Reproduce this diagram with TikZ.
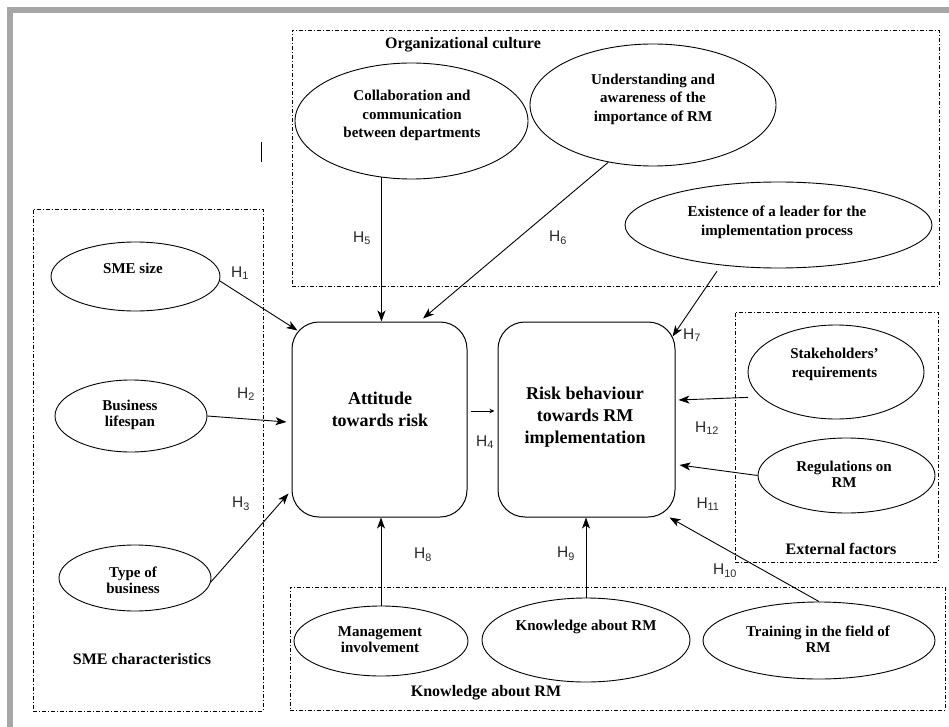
\documentclass[tikz,border=0pt]{standalone}
\usepackage{fontspec}
\setmainfont{Liberation Serif}
\newfontfamily\hsans{Liberation Sans}
\usetikzlibrary{shapes.geometric,arrows.meta}
\definecolor{framegray}{HTML}{A6A6A6}
\definecolor{hgray}{HTML}{2A2A2A}
\begin{document}
\begin{tikzpicture}[x=1pt,y=-1pt,
  ell/.style={draw, ellipse, line width=0.9pt, inner sep=0pt},
  grp/.style={draw, rectangle, inner sep=0pt, line width=0.7pt, dash pattern=on 4pt off 2pt on 1pt off 2pt},
  bigbox/.style={draw, rectangle, rounded corners=27pt, inner sep=0pt, line width=1pt},
  etxt/.style={font=\fontsize{15}{18.5}\selectfont\bfseries, align=center, inner sep=0pt},
  ctxt/.style={font=\fontsize{15}{16.5}\selectfont\bfseries, align=center, inner sep=0pt},
  gtxt/.style={font=\fontsize{16}{19}\selectfont\bfseries, inner sep=0pt},
  btxt/.style={font=\fontsize{18}{22}\selectfont\bfseries, align=center, inner sep=0pt},
  hl/.style={font=\hsans\fontsize{15.5}{15.5}\selectfont, text=hgray, inner sep=0pt},
  arr/.style={-{Stealth[length=11pt,width=8pt,inset=3pt]}, line width=0.9pt},
  arrsmall/.style={-{Stealth[length=5pt,width=4.5pt,inset=1.5pt]}, line width=0.8pt}
]
\useasboundingbox (0,0) rectangle (949,727);
\fill[white] (0,0) rectangle (949,727);
% grey frame (top and left)
\fill[framegray] (7,7) rectangle (949,13);
\fill[framegray] (7,7) rectangle (13,727);

% group boxes
\node[grp, minimum width=647pt, minimum height=256pt] (orgbox) at (615.5,158) {};
\node[grp, minimum width=230pt, minimum height=502pt] (smebox) at (148,460) {};
\node[grp, minimum width=203pt, minimum height=250pt] (extbox) at (836.5,437) {};
\node[grp, minimum width=655pt, minimum height=123pt] (knowbox) at (617.5,648.5) {};

\node[gtxt] (orglab) at (463,45) {Organizational culture};
\node[gtxt] (smelab) at (142,659) {SME characteristics};
\node[gtxt] (extlab) at (841,549) {External factors};
\node[gtxt] (knowlab) at (486,693) {Knowledge about RM};

% stray mark
\draw[line width=0.9pt] (261,142) -- (261,162);

% ellipses
\node[ell, minimum width=233pt, minimum height=116pt] (collab) at (411.5,121) {};
\node[ell, minimum width=246pt, minimum height=122pt] (under) at (653,105) {};
\node[ell, minimum width=307pt, minimum height=86pt] (exist) at (778.5,225) {};
\node[ell, minimum width=169pt, minimum height=69pt] (sme) at (135.5,276.5) {};
\node[ell, minimum width=152pt, minimum height=72pt] (bus) at (131,416) {};
\node[ell, minimum width=152pt, minimum height=66pt] (type) at (135,578) {};
\node[ell, minimum width=174pt, minimum height=70pt] (mgmt) at (381,641) {};
\node[ell, minimum width=208pt, minimum height=84pt] (know) at (586,640) {};
\node[ell, minimum width=232pt, minimum height=77pt] (train) at (819,640.5) {};
\node[ell, minimum width=176pt, minimum height=94pt] (stake) at (836,372) {};
\node[ell, minimum width=177pt, minimum height=75pt] (reg) at (846.5,475.5) {};

% ellipse texts
\node[etxt] (collabt) at (412,115.5) {Collaboration and\\communication\\between departments};
\node[etxt] (undert) at (653,99) {Understanding and\\awareness of the\\importance of RM};
\node[etxt] (existt) at (777,222.5) {Existence of a leader for the\\implementation process};
\node[ctxt] (smet) at (133,268) {SME size};
\node[ctxt] (bust) at (130,415) {Business\\lifespan};
\node[ctxt] (typet) at (133,580.5) {Type of\\business};
\node[ctxt] (mgmtt) at (380,639.5) {Management\\involvement};
\node[ctxt] (knowt) at (586,627) {Knowledge about RM};
\node[ctxt] (traint) at (818,639) {Training in the field of\\RM};
\node[etxt] (staket) at (834.5,364.5) {Stakeholders'\\requirements};
\node[ctxt] (regt) at (844,474.5) {Regulations on\\RM};

% central boxes
\node[bigbox, minimum width=175pt, minimum height=195pt] (att) at (379.5,419.5) {};
\node[bigbox, minimum width=177pt, minimum height=195pt] (risk) at (586.5,419.5) {};
\node[btxt] (attt) at (380,409) {Attitude\\towards risk};
\node[btxt] (riskt) at (585,417) {Risk behaviour\\towards RM\\implementation};

% arrows
\draw[arr] (sme.-3) -- ([xshift=6pt,yshift=-9pt]att.north west);
\draw[arr] (bus.east) -- ([xshift=-5pt,yshift=-2.5pt]att.west);
\draw[arr] (type.-3) -- ([xshift=-3pt,yshift=24pt]att.south west);
\draw[arrsmall] ([xshift=3pt,yshift=8.5pt]att.east) -- ([xshift=-3pt,yshift=8.5pt]risk.west);
\draw[arr] (collab.242) -- (collab.242 |- att.north);
\draw[arr] (under.232.5) -- ([xshift=43.5pt,yshift=3pt]att.north);
\draw[arr] ([xshift=-4pt,yshift=-6pt]exist.215) -- ([xshift=-3pt,yshift=-15pt]risk.north east);
\draw[arr] (mgmt.north) -- (mgmt.north |- att.south);
\draw[arr] (know.north) -- (know.north |- risk.south);
\draw[arr] (train.north) -- ([xshift=-6pt]risk.south east);
\draw[arr] (reg.west) -- ([xshift=4pt,yshift=-45.5pt]risk.east);
\draw[arr] ([xshift=-10pt,yshift=-3pt]stake.196) -- ([xshift=3pt,yshift=19.5pt]risk.east);

% hypothesis labels
\node[hl] (h1) at (240,273) {H\textsubscript{1}};
\node[hl] (h2) at (246,394) {H\textsubscript{2}};
\node[hl] (h3) at (241,504) {H\textsubscript{3}};
\node[hl] (h4) at (485,442) {H\textsubscript{4}};
\node[hl] (h5) at (362,238) {H\textsubscript{5}};
\node[hl] (h6) at (558,238) {H\textsubscript{6}};
\node[hl] (h7) at (692,335) {H\textsubscript{7}};
\node[hl] (h8) at (423,555) {H\textsubscript{8}};
\node[hl] (h9) at (566,554) {H\textsubscript{9}};
\node[hl] (h10) at (725,571) {H\textsubscript{10}};
\node[hl] (h11) at (708,504) {H\textsubscript{11}};
\node[hl] (h12) at (707,428) {H\textsubscript{12}};
\end{tikzpicture}
\end{document}
